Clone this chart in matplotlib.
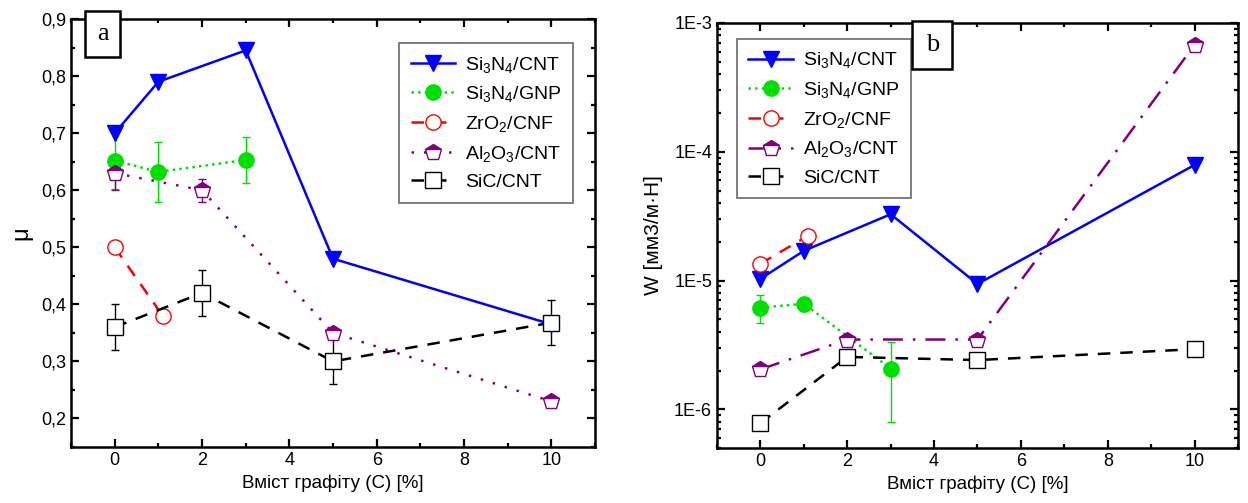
import math
import matplotlib.pyplot as plt
from matplotlib.ticker import FuncFormatter, MultipleLocator, LogLocator, NullFormatter

plt.rcParams['font.family'] = ['Liberation Sans', 'DejaVu Sans']
plt.rcParams['mathtext.default'] = 'regular'

# ---- data: panel a (friction coefficient) ----
x_si3n4_cnt = [0, 1, 3, 5, 10]
mu_si3n4_cnt = [0.70, 0.79, 0.845, 0.48, 0.365]

x_si3n4_gnp = [0, 1, 3]
mu_si3n4_gnp = [0.652, 0.632, 0.653]
mu_si3n4_gnp_err = [0.05, 0.053, 0.04]

x_zro2 = [0, 1.1]
mu_zro2 = [0.50, 0.38]

x_al2o3 = [0, 2, 5, 10]
mu_al2o3 = [0.63, 0.60, 0.35, 0.23]
mu_al2o3_err = [0.03, 0.02, 0.0, 0.0]

x_sic = [0, 2, 5, 10]
mu_sic = [0.36, 0.42, 0.30, 0.368]
mu_sic_err = [0.04, 0.04, 0.04, 0.04]

# ---- data: panel b (wear rate) ----
w_si3n4_cnt = [1.03e-5, 1.7e-5, 3.27e-5, 9.4e-6, 7.9e-5]
w_si3n4_gnp = [6.15e-6, 6.6e-6, 2.07e-6]
w_gnp_lo = [4.68e-6, 5.8e-6, 7.9e-7]
w_gnp_hi = [7.65e-6, 7.3e-6, 3.33e-6]
w_zro2 = [1.35e-5, 2.23e-5]
w_al2o3 = [2.04e-6, 3.48e-6, 3.48e-6, 6.76e-4]
w_sic = [7.8e-7, 2.55e-6, 2.41e-6, 2.93e-6]

labels = [r'Si$_3$N$_4$/CNT', r'Si$_3$N$_4$/GNP', r'ZrO$_2$/CNF', r'Al$_2$O$_3$/CNT', 'SiC/CNT']
blue = '#0000ff'
green = '#00e000'
red = '#ff0000'
purple = '#800080'

fig = plt.figure(figsize=(12.48, 5.03), dpi=100)
ax1 = fig.add_axes([0.0569, 0.1113, 0.4199, 0.8509])
ax2 = fig.add_axes([0.5745, 0.1093, 0.4175, 0.8450])


def style_axes(ax):
    for s in ax.spines.values():
        s.set_linewidth(1.8)
    ax.tick_params(which='both', direction='in', top=True, right=True, labelsize=13, width=1.6)
    ax.tick_params(which='major', length=6)
    ax.tick_params(which='minor', length=3)
    ax.set_xlim(-1, 11)
    ax.xaxis.set_major_locator(MultipleLocator(2))
    ax.xaxis.set_minor_locator(MultipleLocator(1))
    ax.set_xlabel('Вміст графіту (С) [%]', fontsize=13.5, labelpad=4)


def draw_series(ax, ys, errs):
    h = []
    h += ax.plot(x_si3n4_cnt, ys[0], '-', color=blue, lw=1.8, marker='v', ms=12, zorder=3)
    h += ax.plot(x_si3n4_gnp, ys[1], ':', color=green, lw=1.8, marker='o', ms=11, zorder=3)
    h += ax.plot(x_zro2, ys[2], ls=(0, (5, 4)), color=red, lw=1.8, marker='o', ms=11,
                 mfc='white', mec=red, zorder=3)
    al_ls = (0, (1, 4)) if ax is ax1 else (0, (8, 4, 1, 4))
    h += ax.plot(x_al2o3, ys[3], ls=al_ls, color=purple, lw=1.8, marker='p', ms=12,
                 fillstyle='top', mfc=purple, mfcalt='white', mec=purple, zorder=3)
    h += ax.plot(x_sic, ys[4], ls=(0, (5, 4)), color='black', lw=1.8, marker='s', ms=11,
                 mfc='white', mec='black', zorder=4)
    for x, y, e, c in errs:
        ax.errorbar(x, y, yerr=e, fmt='none', ecolor=c, elinewidth=1, capsize=3, zorder=2)
    return h


# panel a
h1 = draw_series(ax1, [mu_si3n4_cnt, mu_si3n4_gnp, mu_zro2, mu_al2o3, mu_sic],
                 [(x_si3n4_gnp, mu_si3n4_gnp, mu_si3n4_gnp_err, green),
                  (x_al2o3[:2], mu_al2o3[:2], mu_al2o3_err[:2], purple),
                  (x_sic, mu_sic, mu_sic_err, 'black')])
style_axes(ax1)
ax1.set_ylim(0.15, 0.9)
ax1.yaxis.set_major_locator(MultipleLocator(0.1))
ax1.yaxis.set_minor_locator(MultipleLocator(0.05))
ax1.yaxis.set_major_formatter(FuncFormatter(lambda v, p: f'{v:.1f}'.replace('.', ',')))
ax1.set_ylabel('μ', fontsize=17, labelpad=6)
leg1 = ax1.legend(h1, labels, loc='upper right', bbox_to_anchor=(0.977, 0.967), fontsize=14, frameon=True,
                  fancybox=False, edgecolor='#444444', handlelength=2.3, labelspacing=0.5, borderpad=0.6,
                  handletextpad=0.5)
leg1.get_frame().set_linewidth(1.2)
ax1.text(0.060, 0.965, 'a', transform=ax1.transAxes, fontsize=19, family='Liberation Serif',
         ha='center', va='center', zorder=10,
         bbox=dict(boxstyle='square,pad=0.45', fc='white', ec='black', lw=1.8))

# panel b
gnp_err = [[v - lo for v, lo in zip(w_si3n4_gnp, w_gnp_lo)], [hi - v for v, hi in zip(w_si3n4_gnp, w_gnp_hi)]]
h2 = draw_series(ax2, [w_si3n4_cnt, w_si3n4_gnp, w_zro2, w_al2o3, w_sic],
                 [(x_si3n4_gnp, w_si3n4_gnp, gnp_err, green)])
style_axes(ax2)
ax2.set_yscale('log')
ax2.set_ylim(5e-7, 1e-3)
ax2.yaxis.set_major_locator(LogLocator(base=10))
ax2.yaxis.set_minor_locator(LogLocator(base=10, subs=range(2, 10)))
ax2.yaxis.set_minor_formatter(NullFormatter())
ax2.yaxis.set_major_formatter(FuncFormatter(lambda v, p: f'1E{int(round(math.log10(v)))}'))
ax2.set_ylabel('W [мм3/м·Н]', fontsize=15, labelpad=8)
leg2 = ax2.legend(h2, labels, loc='upper left', bbox_to_anchor=(0.019, 0.986), fontsize=14, frameon=True,
                  fancybox=False, edgecolor='#444444', handlelength=2.3, labelspacing=0.5, borderpad=0.6,
                  handletextpad=0.5)
leg2.get_frame().set_linewidth(1.2)
ax2.text(0.413, 0.948, 'b', transform=ax2.transAxes, fontsize=19, family='Liberation Serif',
         ha='center', va='center', zorder=10,
         bbox=dict(boxstyle='square,pad=0.5', fc='white', ec='black', lw=1.8))

fig.savefig('out.png', dpi=100)
